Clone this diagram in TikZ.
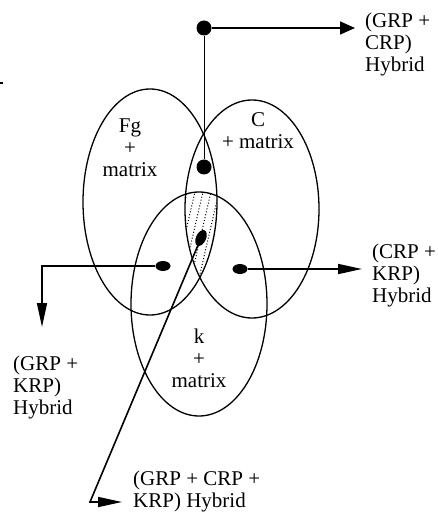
\documentclass[tikz,border=0pt]{standalone}
\usepackage{fontspec}
\setmainfont{Liberation Serif}
\usetikzlibrary{arrows.meta,shapes.geometric}

\begin{document}
\begin{tikzpicture}[x=1pt,y=-1pt,
every node/.style={font=\fontsize{21}{22}\selectfont,inner sep=0pt},
lbl/.style={align=left,anchor=north west},
inlbl/.style={align=center},
bigdot/.style={fill,circle,minimum size=15pt},
dot/.style={fill,ellipse,minimum width=15pt,minimum height=10pt},
ring/.style={line width=1.3pt},
link/.style={line width=1.6pt},
>={Triangle[length=24pt,width=10pt]}]
\useasboundingbox (0,0) rectangle (437,518);
% the three sets
\draw[ring] (150,202) ellipse [x radius=67,y radius=113];
\draw[ring] (252,209) ellipse [x radius=67,y radius=109];
\draw[ring] (199,304) ellipse [x radius=68,y radius=112];
% common part
\begin{scope}
\clip (150,202) ellipse [x radius=67,y radius=113];
\clip (252,209) ellipse [x radius=67,y radius=109];
\clip (199,304) ellipse [x radius=68,y radius=112];
\foreach \i in {0,...,14}
  \draw[dotted,line width=1pt] (130+8*\i,300) -- ++(30,-130);
\end{scope}
\node[inlbl] (fg) at (130,148) {Fg\\+\\matrix};
\node[inlbl] (c) at (258,131) {C\\+ matrix};
\node[inlbl] (k) at (199,358) {k\\+\\matrix};
% points
\node[bigdot] (top) at (204,28) {};
\node[bigdot] (mid) at (204,167) {};
\node[dot,minimum width=17pt,rotate=65] (ctr) at (201,238) {};
\node[dot] (lft) at (163,266) {};
\node[dot] (rgt) at (240,269) {};
% hybrids
\node[lbl] (gc) at (365,13) {(GRP +\\CRP)\\Hybrid};
\node[lbl] (ck) at (372,244) {(CRP +\\KRP)\\Hybrid};
\node[lbl] (gk) at (13,356) {(GRP +\\KRP)\\Hybrid};
\node[lbl] (gck) at (133,471) {(GRP + CRP +\\KRP) Hybrid};
\coordinate (gcend) at (355,28);
\coordinate (ckend) at (362,269);
\coordinate (gkend) at (42,327);
\coordinate (bend) at (90,502);
\coordinate (gckend) at (122,502);
\draw[line width=0.8pt] (top) -- (mid);
\draw[link,-{Triangle[length=15pt,width=13pt]}] (top) -- (gcend);
\draw[link,->] (rgt) -- (ckend);
\draw[link,->] (lft) -| (gkend);
\draw[link,->] (ctr.center) -- (bend) -- (gckend);
\draw[line width=1.5pt] (0,83) -- (3,83);
\end{tikzpicture}
\end{document}
